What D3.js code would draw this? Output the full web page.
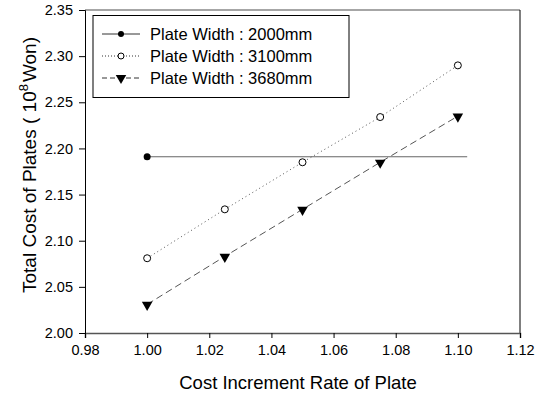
<!DOCTYPE html>
<html>
<head>
<meta charset="utf-8">
<script src="https://cdn.jsdelivr.net/npm/d3@7"></script>
<style>
  body { margin: 0; background: #fff; }
  svg { font-family: "Liberation Sans", Arial, sans-serif; }
</style>
</head>
<body>
<svg id="chart" width="543" height="398"></svg>
<script>
// data
var rates = [1.000, 1.025, 1.050, 1.075, 1.100];
var cost2000 = [2.191, 2.191];
var cost2000Rates = [1.000, 1.103];
var cost3100 = [2.081, 2.134, 2.185, 2.234, 2.290];
var cost3680 = [2.031, 2.083, 2.134, 2.185, 2.235];
var legendLabels = ['Plate Width : 2000mm', 'Plate Width : 3100mm', 'Plate Width : 3680mm'];
var xTicks = [0.98, 1.00, 1.02, 1.04, 1.06, 1.08, 1.10, 1.12];
var yTicks = [2.00, 2.05, 2.10, 2.15, 2.20, 2.25, 2.30, 2.35];

var svg = d3.select('#chart');
var plotLeft = 85, plotRight = 520, plotTop = 10, plotBottom = 333;

var x = d3.scaleLinear().domain([0.98, 1.12]).range([plotLeft, plotRight]);
var y = d3.scaleLinear().domain([2.00, 2.35]).range([plotBottom, plotTop]);

// frame: top and right borders
svg.append('line').attr('x1', plotLeft).attr('x2', plotRight).attr('y1', plotTop).attr('y2', plotTop)
	.attr('stroke', '#888').attr('stroke-width', 1.5);
svg.append('line').attr('x1', plotRight).attr('x2', plotRight).attr('y1', plotTop).attr('y2', plotBottom)
	.attr('stroke', '#000').attr('stroke-width', 1);

// axes
var xAxis = svg.append('g').attr('transform', 'translate(0,' + plotBottom + ')')
	.call(d3.axisBottom(x).tickValues(xTicks).tickFormat(d3.format('.2f')).tickSizeOuter(0).tickSize(5).tickPadding(7));
var yAxis = svg.append('g').attr('transform', 'translate(' + plotLeft + ',0)')
	.call(d3.axisLeft(y).tickValues(yTicks).tickFormat(d3.format('.2f')).tickSizeOuter(0).tickSize(6).tickPadding(6));
xAxis.select('.domain').attr('stroke', '#555').attr('stroke-width', 1.5);
yAxis.select('.domain').attr('stroke', '#000');
svg.selectAll('.tick text').attr('font-size', 14.5).attr('fill', '#000')
	.attr('font-family', '"Liberation Sans", Arial, sans-serif');

// series lines
var line = d3.line().x(function(d){ return x(d[0]); }).y(function(d){ return y(d[1]); });

svg.append('path').datum(d3.zip(cost2000Rates, cost2000)).attr('d', line)
	.attr('fill', 'none').attr('stroke', '#666').attr('stroke-width', 1.2);
svg.append('path').datum(d3.zip(rates, cost3100)).attr('d', line)
	.attr('fill', 'none').attr('stroke', '#555').attr('stroke-width', 1).attr('stroke-dasharray', '1,3');
svg.append('path').datum(d3.zip(rates, cost3680)).attr('d', line)
	.attr('fill', 'none').attr('stroke', '#555').attr('stroke-width', 1).attr('stroke-dasharray', '7,4');

// markers
var tri = d3.symbol().type(d3.symbolTriangle).size(48);
svg.append('circle').attr('cx', x(cost2000Rates[0])).attr('cy', y(cost2000[0])).attr('r', 3.5).attr('fill', '#000');
svg.selectAll('.m3100').data(d3.zip(rates, cost3100)).enter().append('circle')
	.attr('cx', function(d){ return x(d[0]); }).attr('cy', function(d){ return y(d[1]); })
	.attr('r', 3.5).attr('fill', '#fff').attr('stroke', '#000').attr('stroke-width', 1);
svg.selectAll('.m3680').data(d3.zip(rates, cost3680)).enter().append('path')
	.attr('d', tri)
	.attr('transform', function(d){ return 'translate(' + x(d[0]) + ',' + (y(d[1]) + 0.5) + ') rotate(180)'; })
	.attr('fill', '#000');

// legend
var lg = svg.append('g');
lg.append('rect').attr('x', 93).attr('y', 15.5).attr('width', 256).attr('height', 82)
	.attr('fill', '#fff').attr('stroke', '#000').attr('stroke-width', 1);
var styles = [
	{ dash: null, marker: 'dot' },
	{ dash: '1,2', marker: 'open' },
	{ dash: '5,3', marker: 'tri' }
];
legendLabels.forEach(function(label, i){
	var ly = 34 + i * 22;
	lg.append('line').attr('x1', 102).attr('x2', 140).attr('y1', ly).attr('y2', ly)
		.attr('stroke', '#333').attr('stroke-width', 1).attr('stroke-dasharray', styles[i].dash);
	if (styles[i].marker == 'dot'){
		lg.append('circle').attr('cx', 121).attr('cy', ly).attr('r', 3).attr('fill', '#000');
	}else if (styles[i].marker == 'open'){
		lg.append('circle').attr('cx', 121).attr('cy', ly).attr('r', 3).attr('fill', '#fff').attr('stroke', '#000');
	}else{
		lg.append('path').attr('d', tri).attr('transform', 'translate(121,' + ly + ') rotate(180)').attr('fill', '#000');
	}
	lg.append('text').attr('x', 150).attr('y', ly + 6).attr('font-size', 16.5).text(label);
});

// axis titles
svg.append('text').attr('x', 298).attr('y', 389).attr('text-anchor', 'middle')
	.attr('font-size', 18.5).text('Cost Increment Rate of Plate');
var yt = svg.append('text').attr('transform', 'translate(36,165) rotate(-90)').attr('text-anchor', 'middle')
	.attr('font-size', 19);
yt.append('tspan').text('Total Cost of Plates ( 10');
yt.append('tspan').attr('font-size', 13).attr('dy', -8).text('8');
yt.append('tspan').attr('dy', 8).attr('dx', 2).text('Won)');
</script>
</body>
</html>
